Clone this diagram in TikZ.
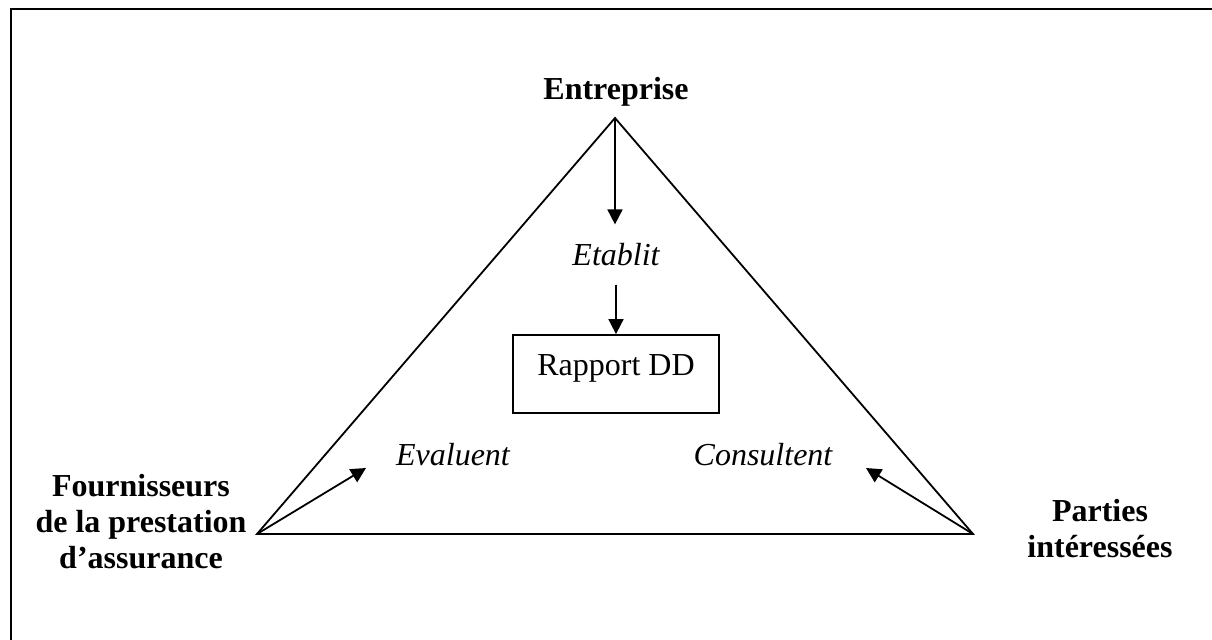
\documentclass[tikz,border=0pt]{standalone}
\usepackage{fontspec}
\setmainfont{Liberation Serif}
\usetikzlibrary{arrows.meta}
\begin{document}
\begin{tikzpicture}[x=0.5pt,y=-0.5pt,
  lbl/.style={font=\fontsize{16}{18}\selectfont\bfseries, align=center, inner sep=0pt},
  verb/.style={font=\fontsize{16}{18}\selectfont\itshape, inner sep=0pt, anchor=base},
  edge/.style={line width=0.9pt, line join=miter},
  arr/.style={line width=0.9pt, -{Triangle[length=7.5pt,width=7.5pt]}},
  framestyle/.style={line width=1.2pt}]
\useasboundingbox (0,0) rectangle (1212,639);
% frame (only top and left edges are visible)
\coordinate (FB) at (11,640);
\coordinate (FC) at (11,9);
\coordinate (FR) at (1213,9);
\draw[framestyle] (FB) -- (FC) -- (FR);
% triangle
\coordinate (A) at (615,118);
\coordinate (L) at (257,534);
\coordinate (R) at (973,534);
\draw[edge] (A) -- (L) -- (R) -- cycle;
% labels
\node[lbl, anchor=base] (ent) at (616,99) {Entreprise};
\node[verb] (etab) at (616,265) {Etablit};
\node[draw, line width=0.9pt, inner sep=0pt, text height=20pt, text depth=19pt,
      minimum width=103pt, anchor=base, font=\fontsize{16}{18}\selectfont] (rap) at (616,375) {Rapport DD};
\node[verb] (eval) at (453,465) {Evaluent};
\node[verb] (cons) at (763,465) {Consultent};
\node[lbl] (four) at (141,521.5) {Fournisseurs\\de la prestation\\d’assurance};
\node[lbl] (part) at (1100,529) {Parties\\intéressées};
% arrows
\coordinate (evtip) at (366,468);
\coordinate (cstip) at (866,468);
\draw[arr, shorten >=9pt] (A) -- (A |- etab.north);
\draw[arr, shorten <=9.5pt] (etab.south) -- (rap.north);
\draw[arr] (L) -- (evtip);
\draw[arr] (R) -- (cstip);
\end{tikzpicture}
\end{document}
